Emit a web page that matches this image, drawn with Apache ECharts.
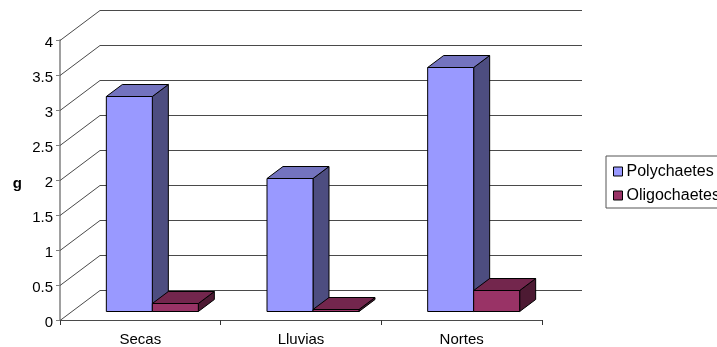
<!DOCTYPE html>
<html>
<head>
<meta charset="utf-8">
<style>
  html, body { margin: 0; padding: 0; background: #fff; overflow: hidden; }
  #chart { width: 717px; height: 347px; }
</style>
<script src="https://cdn.jsdelivr.net/npm/echarts@6/dist/echarts.min.js"></script>
</head>
<body>
<div id="chart"></div>
<script>
// Biomass by season
const categories = ['Secas', 'Lluvias', 'Nortes'];
const polychaetes = [3.07, 1.9, 3.49];
const oligochaetes = [0.12, 0.03, 0.3];
const yTicks = [0, 0.5, 1, 1.5, 2, 2.5, 3, 3.5, 4];

const FONT = '"Liberation Sans", Arial, sans-serif';

// Oblique projection of the chart box
const WALL = { dx: 40, dy: -30 };     // front plane to back wall
const BAR_SHIFT = { dx: 12, dy: -9 }; // front plane to bar front face
const BAR_DEPTH = { dx: 16, dy: -12 };
const BAR_WIDTH = 46;

// Walls: a diagonal from each front tick, then a horizontal along the back wall
function renderWall(params, api) {
  const p = api.coord([0, api.value(1)]);
  const x0 = params.coordSys.x;
  const x1 = x0 + params.coordSys.width;
  const y = Math.round(p[1]) + 0.5;
  return {
    type: 'polyline',
    shape: { points: [[x0, y], [x0 + WALL.dx, y + WALL.dy], [x1 + WALL.dx, y + WALL.dy]] },
    style: { fill: null, stroke: '#4a4a4a', lineWidth: 1 },
    silent: true
  };
}

// A prism with front, top and side faces; side = -1 puts it left of the category centre
function prismRenderer(side, front, top, flank) {
  return function (params, api) {
    const top0 = api.coord([api.value(0), api.value(1)]);
    const base0 = api.coord([api.value(0), 0]);
    const xa = top0[0] + BAR_SHIFT.dx + (side < 0 ? -BAR_WIDTH : 0);
    const xb = xa + BAR_WIDTH;
    const yt = Math.round(top0[1] + BAR_SHIFT.dy) + 0.5;
    const yb = Math.round(base0[1] + BAR_SHIFT.dy) + 0.5;
    const dx = BAR_DEPTH.dx, dy = BAR_DEPTH.dy;
    const edge = { stroke: '#000', lineWidth: 1, lineJoin: 'round' };
    const face = (points, fill) => ({
      type: 'polygon',
      shape: { points },
      style: Object.assign({ fill }, edge)
    });
    return {
      type: 'group',
      children: [
        face([[xb, yt], [xb + dx, yt + dy], [xb + dx, yb + dy], [xb, yb]], flank),
        face([[xa, yt], [xa + dx, yt + dy], [xb + dx, yt + dy], [xb, yt]], top),
        face([[xa, yt], [xb, yt], [xb, yb], [xa, yb]], front)
      ]
    };
  };
}

const chart = echarts.init(document.getElementById('chart'), null, { renderer: 'canvas' });
chart.setOption({
  animation: false,
  backgroundColor: '#fff',
  grid: { left: 60, top: 40, width: 482, height: 280, containLabel: false },
  legend: {
    data: ['Polychaetes', 'Oligochaetes'],
    orient: 'vertical',
    left: 606,
    top: 156,
    padding: [6, 8, 3, 7],
    itemGap: 5,
    itemWidth: 9,
    itemHeight: 9,
    icon: 'rect',
    backgroundColor: '#fff',
    borderColor: '#555',
    borderWidth: 1,
    borderRadius: 0,
    selectedMode: false,
    itemStyle: { borderColor: '#000', borderWidth: 1 },
    textStyle: { fontFamily: FONT, fontSize: 16, lineHeight: 17, color: '#000', padding: [2, 0, 0, -1] }
  },
  xAxis: {
    type: 'category',
    data: categories,
    axisLine: { lineStyle: { color: '#4a4a4a', width: 1 } },
    axisTick: { show: true, length: 5, lineStyle: { color: '#333', width: 1 } },
    axisLabel: { fontFamily: FONT, fontSize: 15, color: '#000', margin: 12 },
    splitLine: { show: false }
  },
  yAxis: {
    type: 'value',
    min: 0,
    max: 4,
    interval: 0.5,
    name: 'g',
    nameLocation: 'middle',
    nameRotate: 0,
    nameGap: 38,
    nameTextStyle: { fontFamily: FONT, fontSize: 15, fontWeight: 'bold', color: '#000', verticalAlign: 'top', lineHeight: 8 },
    axisLine: { show: true, lineStyle: { color: '#808080', width: 1.5 } },
    axisTick: { show: true, length: 4, lineStyle: { color: '#808080', width: 1 } },
    axisLabel: { fontFamily: FONT, fontSize: 15, color: '#000', margin: 7, verticalAlign: 'top', lineHeight: 5 },
    splitLine: { show: false }
  },
  series: [
    {
      name: 'walls',
      type: 'custom',
      renderItem: renderWall,
      data: yTicks.map(v => [0, v]),
      encode: { x: 0, y: 1 },
      silent: true,
      z: 1
    },
    {
      name: 'Polychaetes',
      type: 'custom',
      renderItem: prismRenderer(-1, '#9999ff', '#7373bf', '#4d4d80'),
      itemStyle: { color: '#9999ff' },
      data: polychaetes.map((v, i) => [i, v]),
      encode: { x: 0, y: 1 },
      z: 2
    },
    {
      name: 'Oligochaetes',
      type: 'custom',
      renderItem: prismRenderer(1, '#993366', '#73264d', '#4d1a33'),
      itemStyle: { color: '#993366' },
      data: oligochaetes.map((v, i) => [i, v]),
      encode: { x: 0, y: 1 },
      z: 3
    }
  ]
});
</script>
</body>
</html>
